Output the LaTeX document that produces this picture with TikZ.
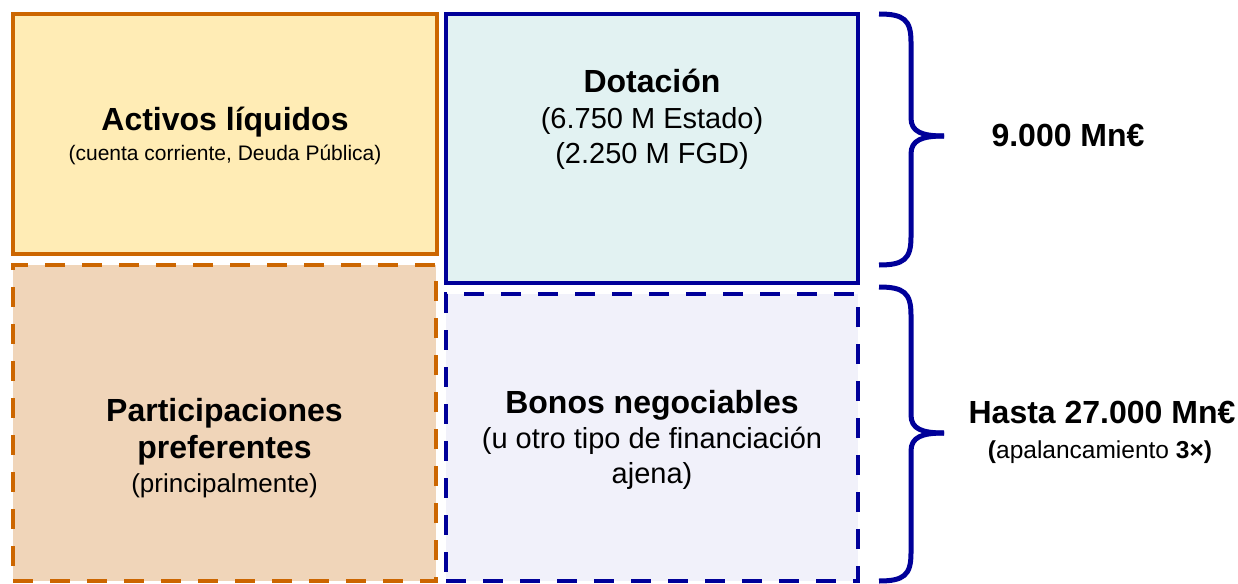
\documentclass[tikz,border=0pt]{standalone}
\usepackage{fontspec}
\setmainfont{Liberation Sans}
\usetikzlibrary{calc, positioning}
\definecolor{naranja}{RGB}{204,102,0}
\definecolor{azul}{RGB}{0,0,153}
\definecolor{amarillo}{RGB}{255,236,181}
\definecolor{salmon}{RGB}{240,213,185}
\definecolor{celeste}{RGB}{226,242,242}
\definecolor{lila}{RGB}{241,241,250}
\tikzstyle{caja} = [rectangle, line width=4.5pt, outer sep=0pt, inner sep=0pt]
\tikzstyle{cajadash} = [caja, dash pattern=on 20pt off 17pt]
\tikzstyle{titulo} = [inner sep=0pt, align=center, font=\fontsize{32}{37}\selectfont\bfseries]
\tikzstyle{sub} = [inner sep=0pt, align=center, font=\fontsize{29}{35}\selectfont]
\tikzstyle{llave} = [draw=azul, line width=5pt]

\begin{document}
\begin{tikzpicture}[x=1pt, y=-1pt]
		\useasboundingbox (0,0) rectangle (1238,583);
		\node (Activos) [caja, draw=naranja, fill=amarillo, minimum width=424pt, minimum height=240pt, anchor=north west] at (13,14) {};
		\node (Dotacion) [caja, draw=azul, fill=celeste, minimum width=412pt, minimum height=269pt, below right=0pt and 9pt of Activos.north east] {};
		\node (Participaciones) [cajadash, draw=naranja, fill=salmon, minimum width=423pt, minimum height=316pt, below right=11pt and 0pt of Activos.south west] {};
		\node (Bonos) [cajadash, draw=azul, fill=lila, minimum width=412pt, minimum height=287pt, below right=11pt and 0pt of Dotacion.south west] {};

		% base = baseline of the last line
		\node (ActivosTit) [titulo, anchor=base] at ($(Activos.north)+(0,117)$) {Activos líquidos};
		\node (ActivosSub) [sub, anchor=base, font=\fontsize{21}{25}\selectfont] at ($(ActivosTit.base)+(0,29)$) {(cuenta corriente, Deuda Pública)};
		\node (DotacionTit) [titulo, anchor=base] at ($(Dotacion.north)+(0,79)$) {Dotación};
		\node (DotacionSub) [sub, anchor=base] at ($(DotacionTit.base)+(0,70)$) {(6.750 M Estado)\\(2.250 M FGD)};
		\node (PartTit) [titulo, anchor=base] at ($(Participaciones.north)+(0,193)$) {Participaciones\\preferentes};
		\node (PartSub) [sub, anchor=base, font=\fontsize{26}{30}\selectfont] at ($(PartTit.base)+(0,34)$) {(principalmente)};
		\node (BonosTit) [titulo, anchor=base] at ($(Bonos.north)+(0,119)$) {Bonos negociables};
		\node (BonosSub) [sub, anchor=base] at ($(BonosTit.base)+(0,70)$) {(u otro tipo de financiación\\ajena)};

		\node (Dotacion9000) [titulo, anchor=base] at (1068,146) {9.000 Mn€};
		\node (Hasta) [titulo, anchor=base] at (1102,423) {Hasta 27.000 Mn€};
		\node (Apalanc) [sub, anchor=base, font=\fontsize{24.5}{28}\selectfont] at ($(Hasta.base)+(-2,35)$) {{\bfseries (}apalancamiento {\bfseries 3×)}};

		% llaves
		\draw [llave] (879,14) .. controls (904,14) and (911,20) .. (911,42) -- (911,118) .. controls (911,132) and (922,136) .. (944,136);
		\draw [llave] (944,136) .. controls (922,136) and (911,140) .. (911,154) -- (911,237) .. controls (911,259) and (904,265) .. (879,265);
		\draw [llave] (879,287) .. controls (904,287) and (911,293) .. (911,315) -- (911,415) .. controls (911,429) and (922,433) .. (944,433);
		\draw [llave] (944,433) .. controls (922,433) and (911,437) .. (911,451) -- (911,553) .. controls (911,575) and (904,581) .. (879,581);
	\end{tikzpicture}
\end{document}
